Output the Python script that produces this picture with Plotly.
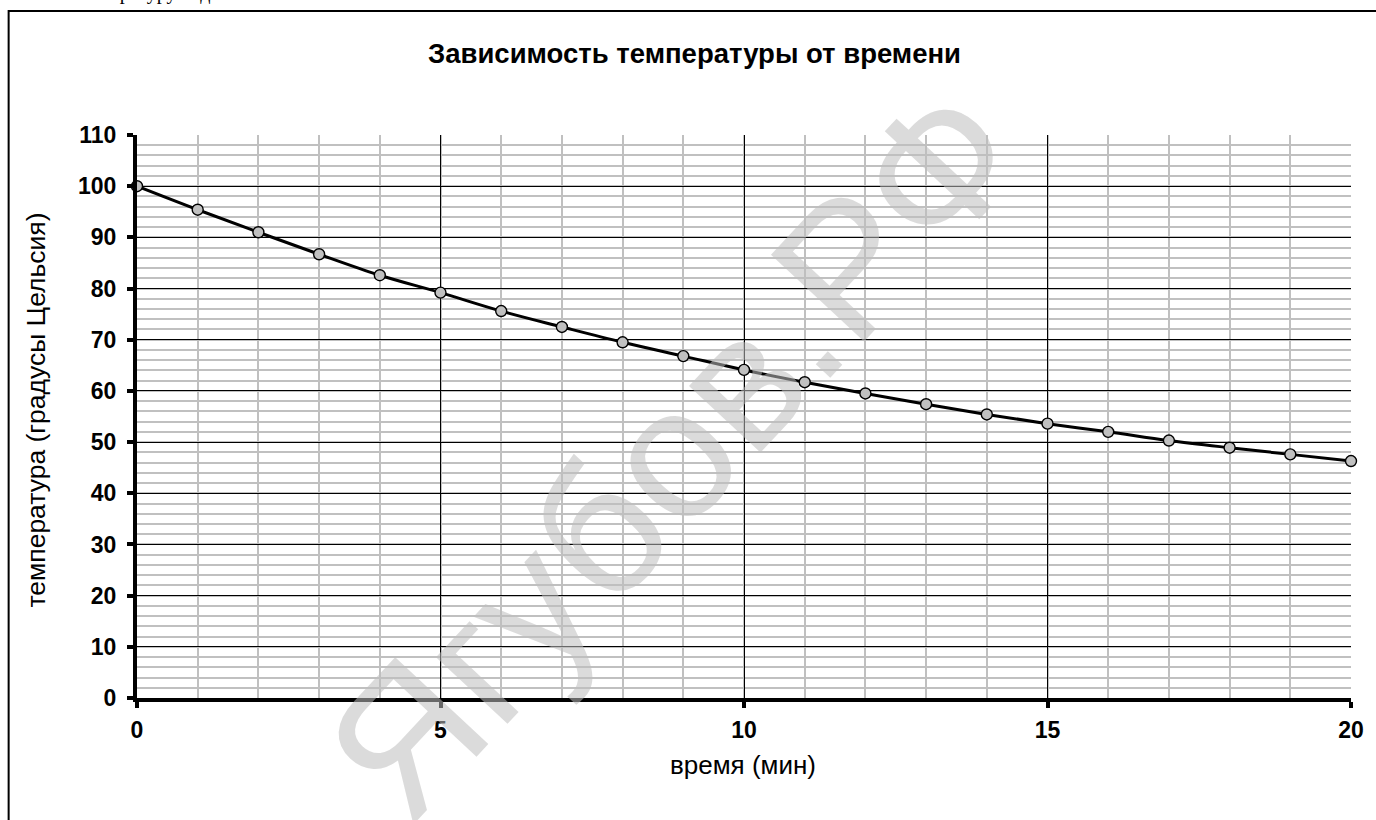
import plotly.graph_objects as go

# Data
time_min = [0, 1, 2, 3, 4, 5, 6, 7, 8, 9, 10, 11, 12, 13, 14, 15, 16, 17, 18, 19, 20]
temperature = [100.0, 95.4, 91.0, 86.7, 82.6, 79.2, 75.6, 72.5, 69.5, 66.8, 64.1,
               61.7, 59.5, 57.4, 55.4, 53.6, 52.0, 50.3, 48.9, 47.6, 46.3]
x_ticks = [0, 5, 10, 15, 20]
y_ticks = list(range(0, 111, 10))

title_text = "Зависимость температуры от времени"
x_title = "время (мин)"
y_title = "температура (градусы Цельсия)"
watermark = "Ягубов.РФ"

W, H = 1376, 820
L, R, T, B = 137, 19, 135, 122
pw, ph = W - L - R, H - T - B

def px_x(p):
    return (p - L) / pw

def px_y(p):
    return (H - B - p) / ph

FONT = "Arial, Liberation Sans, sans-serif"

fig = go.Figure()
fig.add_trace(go.Scatter(
    x=time_min, y=temperature, mode="lines+markers",
    line=dict(color="black", width=3, shape="spline"),
    marker=dict(size=11, color="#c0c0c0", line=dict(color="black", width=1.4)),
    showlegend=False, cliponaxis=False,
))

tick_font = dict(family=FONT, size=23, color="black", weight="bold")

fig.update_xaxes(
    range=[0, 20], tickvals=x_ticks, ticktext=[str(v) for v in x_ticks],
    showgrid=True, gridcolor="black", gridwidth=1,
    minor=dict(dtick=1, showgrid=True, gridcolor="#c0c0c0", gridwidth=1.5, ticks=""),
    showline=True, linecolor="black", linewidth=4,
    ticks="outside", ticklen=6, tickwidth=4, tickcolor="black",
    tickfont=tick_font, ticklabelstandoff=2,
    zeroline=False,
)
fig.update_yaxes(
    range=[0, 110], tickvals=y_ticks, ticktext=[str(v) for v in y_ticks],
    showgrid=True, gridcolor="black", gridwidth=1,
    minor=dict(dtick=2, showgrid=True, gridcolor="#c0c0c0", gridwidth=1.5, ticks=""),
    showline=True, linecolor="black", linewidth=4,
    ticks="outside", ticklen=6, tickwidth=4, tickcolor="black",
    tickfont=tick_font, ticklabelstandoff=6,
    zeroline=False,
)

shapes = [
    dict(type="rect", xref="paper", yref="paper",
         x0=px_x(8), x1=px_x(1390), y0=px_y(840), y1=px_y(11),
         line=dict(color="black", width=2), fillcolor="rgba(0,0,0,0)", layer="below"),
]

annotations = [
    dict(text=watermark, xref="paper", yref="paper", x=px_x(676), y=px_y(452),
         showarrow=False, textangle=-47,
         font=dict(family=FONT, size=185, color="rgba(190,190,190,0.55)")),
    dict(text=title_text, xref="paper", yref="paper", x=px_x(697), y=px_y(53),
         showarrow=False, xanchor="center", yanchor="middle",
         font=dict(family=FONT, size=27.5, color="black", weight="bold")),
    dict(text=x_title, xref="paper", yref="paper", x=px_x(746), y=px_y(765),
         showarrow=False, xanchor="center", yanchor="middle",
         font=dict(family=FONT, size=26, color="black")),
    dict(text=y_title, xref="paper", yref="paper", x=px_x(35), y=px_y(410),
         showarrow=False, xanchor="center", yanchor="middle", textangle=-90,
         font=dict(family=FONT, size=26.5, color="black")),
    dict(text="температуру воды", xref="paper", yref="paper", x=px_x(68), y=px_y(6),
         xanchor="left", yanchor="bottom", showarrow=False,
         font=dict(family="Liberation Serif, Times New Roman, serif", size=20, color="black")),
]

fig.update_layout(
    width=W, height=H,
    margin=dict(l=L, r=R, t=T, b=B),
    paper_bgcolor="white", plot_bgcolor="white",
    shapes=shapes, annotations=annotations,
)

fig.write_html("out.html", config={"displayModeBar": False},
               post_script="document.body.style.margin='0';")
